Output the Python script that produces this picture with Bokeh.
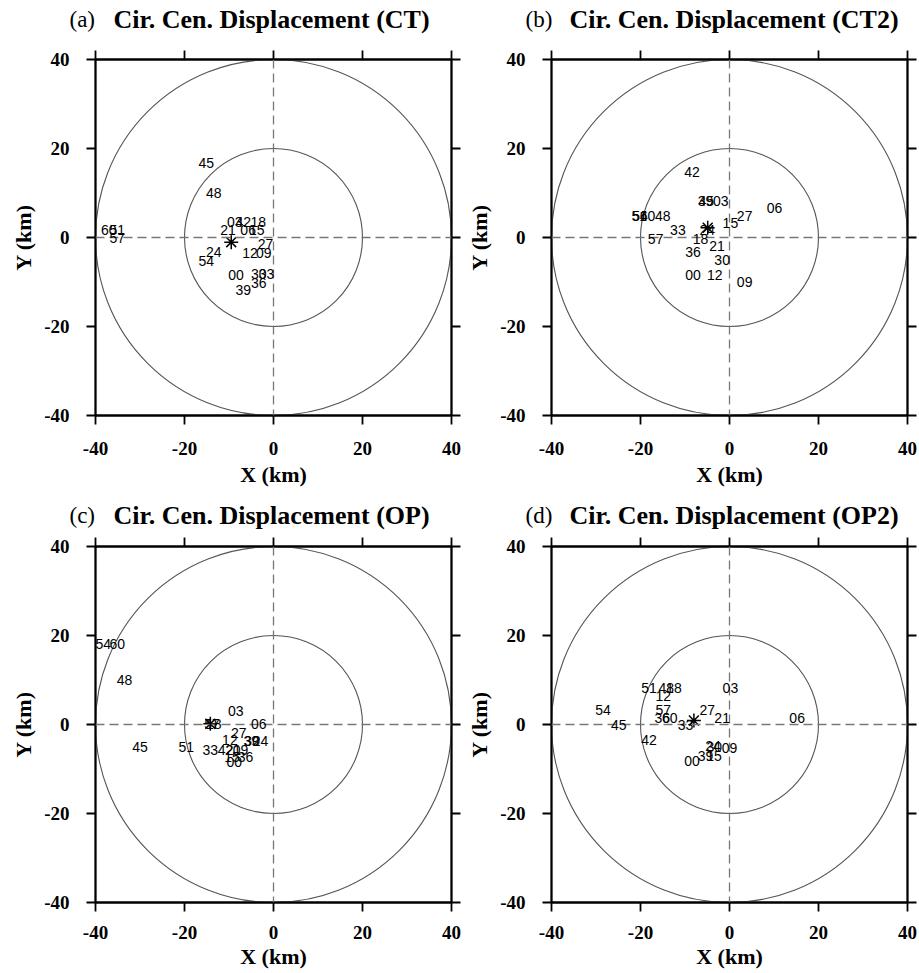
from bokeh.plotting import figure
from bokeh.models import Range1d, FixedTicker, LinearAxis, Span, Label
from bokeh.layouts import column, row
from bokeh.embed import file_html
from bokeh.resources import INLINE
from bokeh.core.properties import value

# ---------------- data ----------------
panel_tags = ["(a)", "(b)", "(c)", "(d)"]
panel_titles = ["Cir. Cen. Displacement (CT)", "Cir. Cen. Displacement (CT2)",
                "Cir. Cen. Displacement (OP)", "Cir. Cen. Displacement (OP2)"]
tick_values = [-40, -20, 0, 20, 40]
tick_labels = ["-40", "-20", "0", "20", "40"]
ring_radii = [20, 40]
hours = ["00", "03", "06", "09", "12", "15", "18", "21", "24", "27", "30",
         "33", "36", "39", "42", "45", "48", "51", "54", "57", "60"]

ct_x = [-8.4, -8.7, -5.7, -2.2, -5.3, -3.75, -3.4, -10.2, -13.4, -1.8, -3.3,
        -1.6, -3.3, -6.8, -6.8, -15.1, -13.4, -35.1, -15.1, -35.1, -37.0]
ct_y = [-8.4, 3.4, 1.6, -3.4, -3.4, 1.6, 3.4, 1.6, -3.3, -1.4, -8.3,
        -8.3, -10.3, -11.8, 3.4, 16.7, 10.0, 1.7, -5.2, -0.15, 1.7]
ct_center = [-9.5, -1.05]

ct2_x = [-8.2, -1.95, 10.1, 3.4, -3.3, 0.2, -6.5, -2.8, -5.0, 3.4, -1.65,
         -11.6, -8.2, -5.4, -8.4, -5.2, -15.0, -20.3, -20.1, -16.6, -18.4]
ct2_y = [-8.5, 8.2, 6.7, -10.0, -8.5, 3.2, -0.3, -1.8, 1.6, 4.9, -5.0,
         1.6, -3.3, 8.2, 14.8, 8.2, 4.9, 4.9, 4.9, -0.3, 4.9]
ct2_center = [-4.9, 2.2]

op_x = [-8.8, -8.5, -3.3, -7.4, -9.8, -9.3, -13.4, -9.06, -2.9, -7.8, -4.8,
        -14.2, -6.3, -5.0, -10.8, -30.0, -33.5, -19.6, -40.3, -13.8, -35.1]
op_y = [-8.5, 3.1, 0.15, -5.8, -3.4, -7.2, 0.15, -5.7, -3.75, -2.0, -3.6,
        -5.7, -7.2, -3.6, -5.7, -5.1, 9.9, -5.1, 18.1, 0.15, 18.1]
op_center = [-14.2, 0.15]

op2_x = [-8.4, 0.2, 15.2, 0.0, -14.9, -3.5, -12.5, -1.65, -3.7, -5.0, -3.4,
         -9.9, -15.1, -5.4, -18.1, -24.9, -14.2, -18.1, -28.4, -14.9, -13.4]
op2_y = [-8.1, 8.2, 1.5, -5.2, 6.5, -7.0, 8.2, 1.5, -4.9, 3.15, -5.0,
         0.0, 1.5, -7.0, -3.4, -0.2, 8.2, 8.2, 3.15, 3.3, 1.5]
op2_center = [-8.0, 0.9]

series = [(ct_x, ct_y, ct_center), (ct2_x, ct2_y, ct2_center),
          (op_x, op_y, op_center), (op2_x, op2_y, op2_center)]

SERIF = "Liberation Serif"
SANS = "Liberation Sans"
FRAME = 356
TOP = 12
LEFTS = [95, 87]
RIGHTS = [13, 12]
PX_PER_KM = FRAME / 80.0


def style_axis(ax, show_labels):
    ax.ticker = FixedTicker(ticks=tick_values)
    ax.major_tick_in = 0
    ax.major_tick_out = 9
    ax.minor_tick_in = 0
    ax.minor_tick_out = 0
    ax.axis_line_color = "black"
    ax.axis_line_width = 1.8
    ax.major_tick_line_color = "black"
    ax.major_tick_line_width = 1.8
    if show_labels:
        ax.major_label_overrides = dict(zip(tick_values, tick_labels))
        ax.major_label_text_font = SERIF
        ax.major_label_text_font_style = "bold"
        ax.major_label_text_font_size = "19px"
        ax.major_label_text_color = "black"
        ax.axis_label_text_font = SERIF
        ax.axis_label_text_font_style = "bold"
        ax.axis_label_text_font_size = "22px"
        ax.axis_label_text_color = "black"
    else:
        ax.major_label_overrides = {v: "" for v in tick_values}
        ax.major_label_text_font_size = "1px"
        ax.major_label_standoff = 0


def make_title_row(indices, height, yc):
    w = sum(LEFTS) + 2 * FRAME + sum(RIGHTS)
    t = figure(width=w, height=height, x_range=Range1d(0, w), y_range=Range1d(0, height),
               x_axis_location=None, y_axis_location=None,
               min_border=0, output_backend="svg", toolbar_location=None)
    t.grid.visible = False
    t.outline_line_color = None
    starts = [LEFTS[0], LEFTS[0] + FRAME + RIGHTS[0] + LEFTS[1]]
    tag_x = [s - 26 for s in starts]
    title_x = [s + 18 for s in starts]
    t.text(x=tag_x, y=[yc, yc], text=[panel_tags[k] for k in indices],
           text_font=value(SERIF), text_font_size="23px", text_align="left",
           text_baseline="middle", text_color="black")
    t.text(x=title_x, y=[yc, yc], text=[panel_titles[k] for k in indices],
           text_font=value(SERIF), text_font_size="26px", text_font_style="bold",
           text_align="left", text_baseline="middle", text_color="black")
    return t


def make_panel(i, left, right, bottom, xs1, xs2):
    xs, ys, center = series[i]
    p = figure(width=left + FRAME + right, height=TOP + FRAME + bottom,
               x_range=Range1d(-40, 40), y_range=Range1d(-40, 40),
               min_border_left=left, min_border_right=right,
               min_border_top=TOP, min_border_bottom=bottom,
               output_backend="svg", toolbar_location=None,
               background_fill_color="white", border_fill_color="white")
    p.grid.visible = False
    p.outline_line_color = "black"
    p.outline_line_width = 1.8

    style_axis(p.xaxis[0], True)
    style_axis(p.yaxis[0], True)
    p.xaxis[0].axis_label = "X (km)"
    p.yaxis[0].axis_label = "Y (km)"
    p.xaxis[0].major_label_standoff = xs1
    p.xaxis[0].axis_label_standoff = xs2
    p.yaxis[0].major_label_standoff = 17
    p.yaxis[0].axis_label_standoff = 5

    ax_r = LinearAxis()
    style_axis(ax_r, False)
    p.add_layout(ax_r, "right")
    ax_t = LinearAxis()
    style_axis(ax_t, False)
    p.add_layout(ax_t, "above")

    p.add_layout(Span(location=0, dimension="height", line_color="#777777",
                      line_width=1.3, line_dash="9 5"))
    p.add_layout(Span(location=0, dimension="width", line_color="#777777",
                      line_width=1.3, line_dash="9 5"))

    p.circle(x=[0] * len(ring_radii), y=[0] * len(ring_radii), radius=ring_radii,
             fill_color=None, line_color="#555555", line_width=1.1)

    p.scatter(x=[center[0]], y=[center[1]], marker="asterisk", size=14,
              line_color="black", line_width=1.5)

    # labels whose text would cross the frame edge are nudged inward so they stay whole
    half_w = 7.8 / PX_PER_KM
    for xv, yv, t in zip(xs, ys, hours):
        xd = min(max(xv, -40 + half_w), 40 - half_w)
        p.add_layout(Label(x=xd, y=yv, text=t, text_align="center",
                           text_baseline="middle", text_font=SANS,
                           text_font_size="14px", text_color="black",
                           level="overlay"))
    return p


# row 1: title 47 + plot 444 = 491 ; row 2: title 43 + plot 439 = 482
t1 = make_title_row([0, 1], 47, 28)
pa = make_panel(0, LEFTS[0], RIGHTS[0], 76, 17, 4)
pb = make_panel(1, LEFTS[1], RIGHTS[1], 76, 17, 4)
t2 = make_title_row([2, 3], 43, 19)
pc = make_panel(2, LEFTS[0], RIGHTS[0], 71, 14, 2)
pd = make_panel(3, LEFTS[1], RIGHTS[1], 71, 14, 2)

layout = column(t1, row(pa, pb), t2, row(pc, pd))
open("out.html", "w").write(file_html(layout, INLINE))
